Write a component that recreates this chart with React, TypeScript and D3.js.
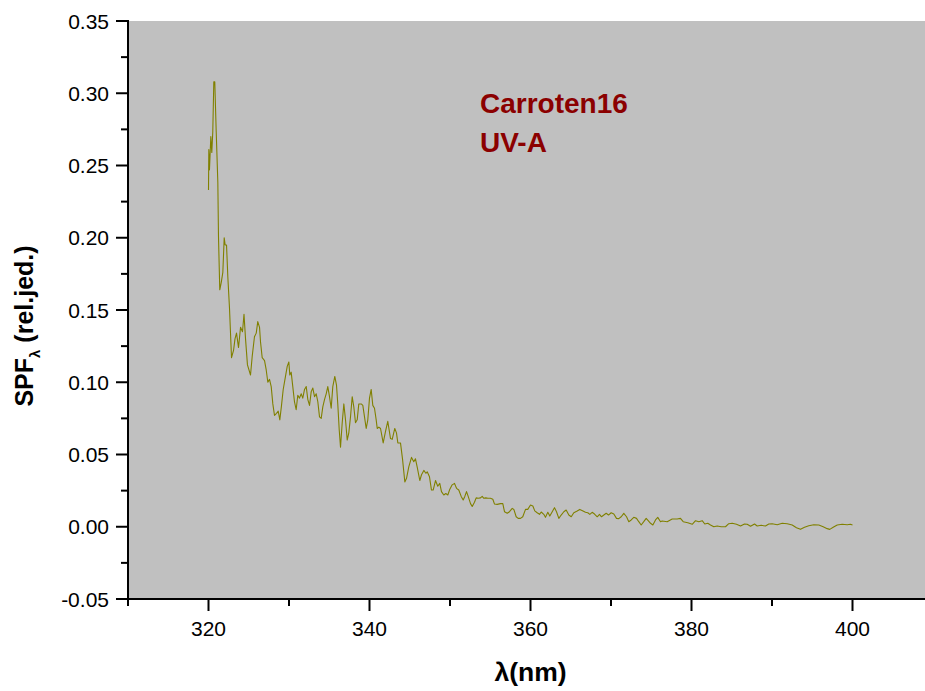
import React, { useEffect, useRef } from 'react';
import * as d3 from 'd3';

// wavelength (nm) and SPF_lambda values
const wavelength = [
  320.00, 320.04, 320.12, 320.29, 320.41, 320.53, 320.66, 320.78, 320.96, 321.16,
  321.24, 321.40, 321.58, 321.78, 321.95, 322.07, 322.24, 322.40, 322.61, 322.86,
  323.11, 323.29, 323.48, 323.73, 323.98, 324.22, 324.41, 324.60, 324.84, 325.22,
  325.43, 325.71, 325.93, 326.12, 326.34, 326.46, 326.67, 326.96, 327.17, 327.37,
  327.58, 327.79, 327.99, 328.20, 328.45, 328.66, 328.86, 329.07, 329.28, 329.53,
  329.78, 329.98, 330.10, 330.27, 330.47, 330.68, 330.89, 331.09, 331.30, 331.52,
  331.71, 331.93, 332.14, 332.34, 332.55, 332.76, 332.96, 333.17, 333.38, 333.58,
  333.79, 334.00, 334.20, 334.41, 334.62, 334.82, 335.03, 335.24, 335.44, 335.69,
  335.90, 336.06, 336.24, 336.40, 336.61, 336.81, 337.02, 337.23, 337.43, 337.64,
  337.85, 338.05, 338.26, 338.47, 338.67, 338.97, 339.17, 339.38, 339.59, 339.79,
  340.00, 340.21, 340.41, 340.62, 340.83, 340.96, 341.16, 341.37, 341.70, 341.99,
  342.27, 342.61, 342.82, 343.14, 343.35, 343.52, 343.85, 344.10, 344.39, 344.60,
  344.88, 345.22, 345.50, 345.71, 345.92, 346.25, 346.46, 346.75, 347.00, 347.17,
  347.45, 347.70, 347.91, 348.20, 348.48, 348.73, 348.94, 349.23, 349.48, 349.73,
  349.98, 350.27, 350.56, 350.81, 351.09, 351.39, 351.64, 351.84, 352.05, 352.26,
  352.55, 352.76, 353.04, 353.25, 353.50, 353.79, 354.00, 354.20, 354.45, 354.70,
  355.03, 355.32, 355.53, 355.86, 356.27, 356.56, 356.77, 357.11, 357.39, 357.73,
  357.93, 358.22, 358.47, 358.76, 359.04, 359.38, 359.66, 360.00, 360.29, 360.53,
  360.83, 361.12, 361.33, 361.65, 361.86, 362.15, 362.40, 362.70, 362.98, 363.23,
  363.52, 363.81, 364.14, 364.43, 364.76, 365.06, 365.38, 365.80, 366.12, 366.46,
  366.83, 367.12, 367.37, 367.66, 367.95, 368.29, 368.57, 368.82, 369.11, 369.40,
  369.69, 370.02, 370.35, 370.68, 370.97, 371.27, 371.59, 371.93, 372.21, 372.51,
  372.83, 373.17, 373.45, 373.75, 374.07, 374.37, 374.62, 374.91, 375.20, 375.53,
  375.81, 376.15, 376.36, 376.98, 377.60, 378.22, 378.63, 378.97, 379.54, 380.09,
  380.50, 380.91, 381.33, 381.65, 382.02, 382.36, 382.77, 383.19, 383.69, 384.22,
  384.63, 385.06, 385.59, 386.09, 386.58, 386.92, 387.33, 387.83, 388.16, 388.66,
  389.19, 389.60, 390.02, 390.65, 391.27, 391.89, 392.51, 393.04, 393.54, 394.04,
  394.57, 395.19, 395.81, 396.36, 396.86, 397.18, 397.60, 398.10, 398.72, 399.34,
  399.75, 400.00,
];

const spf = [
  0.233, 0.261, 0.247, 0.270, 0.259, 0.273, 0.308, 0.308, 0.273, 0.238,
  0.201, 0.164, 0.169, 0.176, 0.200, 0.195, 0.195, 0.173, 0.151, 0.117,
  0.122, 0.130, 0.134, 0.124, 0.138, 0.135, 0.147, 0.130, 0.112, 0.105,
  0.118, 0.1315, 0.134, 0.142, 0.138, 0.128, 0.117, 0.115, 0.1085, 0.100,
  0.102, 0.097, 0.085, 0.077, 0.0785, 0.080, 0.074, 0.084, 0.095, 0.103,
  0.111, 0.114, 0.105, 0.107, 0.097, 0.0865, 0.081, 0.091, 0.089, 0.092,
  0.089, 0.095, 0.097, 0.088, 0.084, 0.0935, 0.096, 0.090, 0.092, 0.0865,
  0.076, 0.075, 0.083, 0.088, 0.092, 0.097, 0.090, 0.082, 0.097, 0.104,
  0.098, 0.085, 0.067, 0.055, 0.072, 0.085, 0.074, 0.060, 0.065, 0.076,
  0.090, 0.083, 0.072, 0.074, 0.085, 0.085, 0.084, 0.076, 0.068, 0.074,
  0.089, 0.095, 0.084, 0.082, 0.074, 0.068, 0.069, 0.068, 0.058, 0.066,
  0.073, 0.061, 0.0605, 0.068, 0.065, 0.058, 0.058, 0.047, 0.031, 0.0335,
  0.0415, 0.048, 0.045, 0.047, 0.0415, 0.032, 0.036, 0.039, 0.037, 0.038,
  0.0346, 0.0254, 0.0254, 0.032, 0.028, 0.030, 0.0243, 0.022, 0.023, 0.022,
  0.026, 0.029, 0.030, 0.0266, 0.0254, 0.021, 0.0185, 0.021, 0.0243, 0.021,
  0.016, 0.014, 0.017, 0.020, 0.0197, 0.020, 0.021, 0.0197, 0.020, 0.0197,
  0.0197, 0.019, 0.0157, 0.0155, 0.016, 0.016, 0.0104, 0.0093, 0.0104, 0.0127,
  0.012, 0.0069, 0.0058, 0.0058, 0.0069, 0.012, 0.012, 0.015, 0.0144, 0.011,
  0.0097, 0.0086, 0.0102, 0.0086, 0.0065, 0.010, 0.0074, 0.0104, 0.0132, 0.0104,
  0.0058, 0.0081, 0.0104, 0.0116, 0.0081, 0.0069, 0.0097, 0.0109, 0.012, 0.0111,
  0.010, 0.0097, 0.0086, 0.010, 0.0088, 0.0069, 0.0086, 0.0069, 0.0081, 0.0093,
  0.0081, 0.0097, 0.0088, 0.0058, 0.0056, 0.0069, 0.0093, 0.0069, 0.0035, 0.0047,
  0.0065, 0.0058, 0.0035, 0.0012, 0.0035, 0.0058, 0.0042, 0.0024, 0.0012, 0.0047,
  0.0065, 0.0035, 0.004, 0.0035, 0.0054, 0.0054, 0.0058, 0.0035, 0.0028, 0.0017,
  0.0042, 0.0035, 0.0042, 0.0019, 0.0024, 0.0012, 0.0, 0.0005, 0.0, 0.0,
  0.0021, 0.0024, 0.0017, 0.0005, 0.0019, 0.0017, 0.0003, 0.0019, 0.0005, 0.001,
  0.0005, 0.0019, 0.0021, 0.0014, 0.0024, 0.0021, 0.0012, -0.0007, -0.0018, -0.0004,
  0.0007, 0.0014, 0.0012, 0.0, -0.0013, -0.0018, -0.0004, 0.0012, 0.0017, 0.0014,
  0.0017, 0.0012,
];

const xMajorTicks = [320, 340, 360, 380, 400];
const xMinorTicks = [310, 330, 350, 370, 390, 410];
const yMajorTicks = [-0.05, 0.0, 0.05, 0.1, 0.15, 0.2, 0.25, 0.3, 0.35];
const yMinorTicks = [-0.025, 0.025, 0.075, 0.125, 0.175, 0.225, 0.275, 0.325];
const annotation = ['Carroten16', 'UV-A'];

const W = 925;
const H = 691;

const App: React.FC = () => {
  const svgRef = useRef<SVGSVGElement>(null);

  useEffect(() => {
    document.body.style.margin = '0';
    if (!svgRef.current) return;
    const svg = d3.select(svgRef.current);
    svg.selectAll('*').remove();

    const font = 'Arial, "Liberation Sans", sans-serif';
    const left = 128;
    const top = 21;
    const bottom = 599;

    const x = d3.scaleLinear().domain([310, 410]).range([left, left + 805]);
    const y = d3.scaleLinear().domain([-0.05, 0.35]).range([bottom, top]);

    // plot background
    svg.append('rect')
      .attr('x', left).attr('y', top)
      .attr('width', W - left).attr('height', bottom - top)
      .attr('fill', '#c0c0c0');

    // data line
    const pts = wavelength.map((w, i) => [w, spf[i]] as [number, number]);
    const line = d3.line<[number, number]>()
      .x(d => x(d[0]))
      .y(d => y(d[1]));
    svg.append('path')
      .datum(pts)
      .attr('fill', 'none')
      .attr('stroke', '#808000')
      .attr('stroke-width', 1.1)
      .attr('stroke-linejoin', 'round')
      .attr('d', line);

    // --- axes ---
    const ax = svg.append('g').attr('stroke', '#000').attr('stroke-width', 2);
    ax.append('line').attr('x1', left).attr('x2', left).attr('y1', top - 1).attr('y2', bottom + 1);
    ax.append('line').attr('x1', left - 1).attr('x2', W).attr('y1', bottom).attr('y2', bottom);

    yMajorTicks.forEach(v => {
      ax.append('line').attr('x1', left - 12).attr('x2', left).attr('y1', y(v)).attr('y2', y(v));
    });
    yMinorTicks.forEach(v => {
      ax.append('line').attr('x1', left - 7).attr('x2', left).attr('y1', y(v)).attr('y2', y(v));
    });
    xMajorTicks.forEach(v => {
      ax.append('line').attr('x1', x(v)).attr('x2', x(v)).attr('y1', bottom).attr('y2', bottom + 12);
    });
    xMinorTicks.forEach(v => {
      ax.append('line').attr('x1', x(v)).attr('x2', x(v)).attr('y1', bottom).attr('y2', bottom + 7);
    });

    const fmt = (v: number) => d3.format('.2f')(v).replace('\u2212', '-');
    svg.append('g').selectAll('text')
      .data(yMajorTicks)
      .enter()
      .append('text')
      .attr('x', left - 19)
      .attr('y', d => y(d))
      .attr('dy', '0.36em')
      .attr('text-anchor', 'end')
      .attr('font-family', font)
      .attr('font-size', 21)
      .attr('fill', '#000')
      .text(d => fmt(d));

    svg.append('g').selectAll('text')
      .data(xMajorTicks)
      .enter()
      .append('text')
      .attr('x', d => x(d))
      .attr('y', 636)
      .attr('text-anchor', 'middle')
      .attr('font-family', font)
      .attr('font-size', 21)
      .attr('fill', '#000')
      .text(d => d);

    // axis titles
    svg.append('text')
      .attr('x', (left + left + 805) / 2)
      .attr('y', 681)
      .attr('text-anchor', 'middle')
      .attr('font-family', font)
      .attr('font-weight', 'bold')
      .attr('font-size', 26.5)
      .text('λ(nm)');

    const yt = svg.append('text')
      .attr('transform', 'translate(33,326) rotate(-90)')
      .attr('text-anchor', 'middle')
      .attr('font-family', font)
      .attr('font-weight', 'bold')
      .attr('font-size', 25);
    yt.append('tspan').text('SPF');
    yt.append('tspan').attr('font-size', 15).attr('dy', 7).text('λ');
    yt.append('tspan').attr('dy', -7).text(' (rel.jed.)');

    // annotation
    svg.append('g').selectAll('text')
      .data(annotation)
      .enter()
      .append('text')
      .attr('x', 480)
      .attr('y', (d, i) => 113 + i * 39)
      .attr('font-family', font)
      .attr('font-weight', 'bold')
      .attr('font-size', 28)
      .attr('fill', '#8b0000')
      .text(d => d);
  }, []);

  return (
    <div style={{ width: W, height: H, background: '#fff' }}>
      <svg ref={svgRef} width={W} height={H} style={{ display: 'block' }} />
    </div>
  );
};

export default App;
